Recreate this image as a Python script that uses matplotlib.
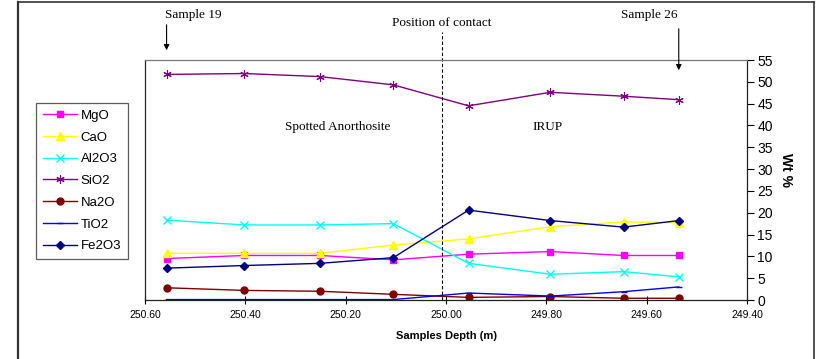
import numpy as np
import matplotlib
matplotlib.use("Agg")
import matplotlib.pyplot as plt
from matplotlib.lines import Line2D
from matplotlib.transforms import blended_transform_factory

# sample depths (m) and oxide contents (wt %)
depth = [250.557, 250.402, 250.251, 250.105, 249.955, 249.792, 249.646, 249.536]
mgo = [9.5, 10.2, 10.2, 9.2, 10.5, 11.1, 10.2, 10.2]
cao = [10.7, 10.7, 10.7, 12.6, 14.0, 16.8, 17.9, 17.7]
al2o3 = [18.3, 17.2, 17.2, 17.5, 8.4, 5.9, 6.5, 5.3]
sio2 = [51.7, 51.9, 51.2, 49.3, 44.5, 47.6, 46.7, 45.9]
na2o = [2.8, 2.2, 2.0, 1.3, 0.6, 0.8, 0.4, 0.4]
tio2 = [0.1, 0.1, 0.1, 0.1, 1.6, 0.9, 1.9, 3.0]
fe2o3 = [7.3, 7.9, 8.4, 9.7, 20.6, 18.2, 16.7, 18.2]

contact = 250.008
xticks = [250.60, 250.40, 250.20, 250.00, 249.80, 249.60, 249.40]
yticks = list(range(0, 60, 5))

series = [
    ("MgO", mgo, "#FF00FF", "s", 5, 1.0),
    ("CaO", cao, "#FFFF00", "^", 6, 1.0),
    ("Al2O3", al2o3, "#00FFFF", "x", 5.5, 1.0),
    ("SiO2", sio2, "#800080", (6, 2, 0), 6, 0.8),
    ("Na2O", na2o, "#800000", "o", 5, 1.0),
    ("TiO2", tio2, "#0000FF", "_", 5, 1.0),
    ("Fe2O3", fe2o3, "#000080", "D", 4.5, 1.0),
]

plt.rcParams["font.family"] = ["Liberation Sans", "DejaVu Sans"]

fig = plt.figure(figsize=(8.19, 3.59), dpi=100)
ax = fig.add_axes([145 / 819, 1 - 300 / 359, 602 / 819, 240 / 359])

for name, vals, col, mk, ms, mew in series:
    ax.plot(depth, vals, color=col, lw=1.0, marker=mk, markersize=ms,
            markeredgewidth=mew, label=name)

ax.set_xlim(250.60, 249.40)
ax.set_ylim(0, 55)
ax.set_xticks(xticks)
ax.set_xticklabels([f"{t:.2f}" for t in xticks], fontsize=7.5)
ax.set_yticks(yticks)
ax.yaxis.tick_right()
ax.tick_params(axis="y", labelsize=10, length=5, pad=2.5, direction="out")
ax.tick_params(axis="x", length=6, direction="inout", pad=4)
for s in ax.spines.values():
    s.set_color("#222222")
    s.set_linewidth(0.9)
ax.spines["top"].set_color("#777777")

ax.set_xlabel("Samples Depth (m)", fontsize=8, fontweight="bold", labelpad=8)
ax.yaxis.set_label_position("right")
ax.set_ylabel("Wt %", fontsize=10, fontweight="bold", rotation=-90)
ax.yaxis.set_label_coords(1.076, 0.54)

# contact line and annotations
tr = blended_transform_factory(ax.transData, ax.transAxes)
ax.plot([contact, contact], [0, (300 - 32) / 240], transform=tr, color="black",
        lw=0.8, ls=(0, (3, 2)), clip_on=False)
ax.text(contact, (300 - 23) / 240, "Position of contact", transform=tr,
        ha="center", va="center", fontsize=9.5, family="Liberation Serif")

ax.annotate("", xy=(depth[0], (300 - 53) / 240), xycoords=tr,
            xytext=(depth[0], (300 - 22) / 240), textcoords=tr,
            arrowprops=dict(arrowstyle="-|>", color="black", lw=0.8, mutation_scale=8))
ax.text(depth[0] + 0.003, (300 - 15) / 240, "Sample 19", transform=tr,
        ha="left", va="center", fontsize=9.5, family="Liberation Serif")

ax.annotate("", xy=(depth[-1], (300 - 73) / 240), xycoords=tr,
            xytext=(depth[-1], (300 - 26) / 240), textcoords=tr,
            arrowprops=dict(arrowstyle="-|>", color="black", lw=0.8, mutation_scale=8))
ax.text(depth[-1] + 0.002, (300 - 15) / 240, "Sample 26", transform=tr,
        ha="right", va="center", fontsize=9.5, family="Liberation Serif")

ax.text(250.216, 39.7, "Spotted Anorthosite", ha="center", va="center",
        fontsize=9.5, family="Liberation Serif")
ax.text(249.798, 39.7, "IRUP", ha="center", va="center",
        fontsize=9.5, family="Liberation Serif")

# legend on the left
leg = fig.legend(loc="upper left", bbox_to_anchor=(36 / 819, 1 - 103 / 359),
                 fontsize=9.5, frameon=True, fancybox=False, handlelength=2.6,
                 labelspacing=0.72, borderpad=0.5, handletextpad=0.3,
                 borderaxespad=0)
leg.get_frame().set_edgecolor("#333333")
leg.get_frame().set_linewidth(0.9)

# outer frame of the picture
fig.add_artist(Line2D([17.5 / 819, 17.5 / 819], [0, 1 - 2 / 359], transform=fig.transFigure,
                      color="#333333", lw=1.6))
fig.add_artist(Line2D([17.5 / 819, 814 / 819], [1 - 2 / 359, 1 - 2 / 359], transform=fig.transFigure,
                      color="#333333", lw=1.2))
fig.add_artist(Line2D([814 / 819, 814 / 819], [0, 1 - 2 / 359], transform=fig.transFigure,
                      color="#333333", lw=1.2))

fig.savefig("out.png", dpi=100)
